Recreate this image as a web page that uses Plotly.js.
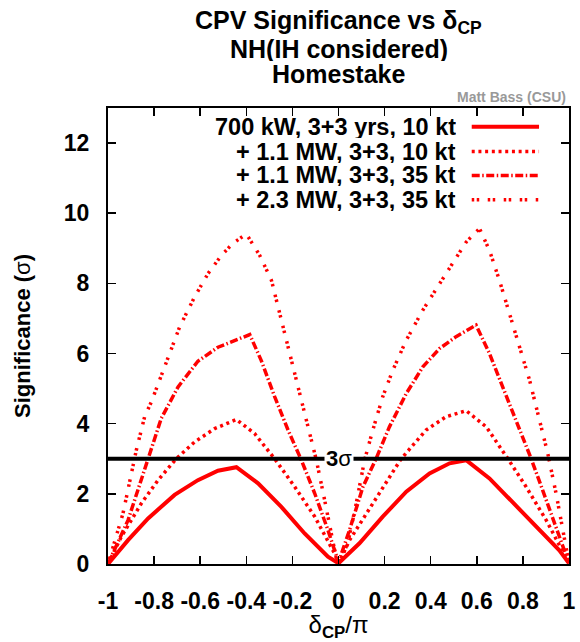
<!DOCTYPE html>
<html>
<head>
<meta charset="utf-8">
<script src="https://cdn.plot.ly/plotly-3.0.1.min.js"></script>
<style>html,body{margin:0;padding:0;background:#fff;}#chart{width:580px;height:642px;}</style>
</head>
<body>
<div id="chart"></div>
<script>
// Series names
var seriesNames = [
  "700 kW, 3+3 yrs, 10 kt",
  "+ 1.1 MW, 3+3, 10 kt",
  "+ 1.1 MW, 3+3, 35 kt",
  "+ 2.3 MW, 3+3, 35 kt"
];

// delta_CP / pi values and significance values (sigma)
var x700 = [-1,-0.913,-0.826,-0.711,-0.61,-0.523,-0.443,-0.349,-0.248,-0.147,-0.046,0,0.091,0.192,0.294,0.395,0.482,0.554,0.655,0.756,0.858,0.958,1];
var y700 = [0,0.68,1.3,1.97,2.39,2.66,2.76,2.3,1.63,0.87,0.21,0.02,0.59,1.35,2.06,2.58,2.87,2.96,2.44,1.77,1.06,0.39,0.02];

var x11_10 = [-1,-0.942,-0.855,-0.783,-0.704,-0.624,-0.537,-0.443,-0.364,-0.277,-0.19,-0.103,-0.017,0,0.048,0.149,0.272,0.38,0.467,0.554,0.641,0.735,0.814,0.901,0.988,1];
var y11_10 = [0,0.78,1.73,2.39,3.0,3.48,3.86,4.12,3.72,3.0,2.2,1.35,0.3,0.02,0.68,1.73,3.0,3.82,4.2,4.37,3.91,3.0,2.2,1.25,0.21,0.02];

var x11_35 = [-1,-0.913,-0.826,-0.769,-0.696,-0.61,-0.523,-0.45,-0.385,-0.335,-0.277,-0.219,-0.161,-0.103,-0.046,0,0.048,0.106,0.163,0.221,0.294,0.366,0.438,0.51,0.597,0.655,0.713,0.771,0.836,0.886,0.944,0.995,1];
var y11_35 = [0,1.25,3.0,4.15,5.05,5.78,6.18,6.37,6.54,5.8,4.77,3.82,2.96,2.01,0.97,0.05,0.97,2.2,3.0,3.91,4.86,5.62,6.14,6.48,6.81,6.0,5.05,4.1,3.0,2.1,1.06,0.1,0.02];

var x23_35 = [-1,-0.935,-0.877,-0.841,-0.812,-0.783,-0.74,-0.689,-0.624,-0.566,-0.508,-0.458,-0.40,-0.342,-0.291,-0.248,-0.212,-0.176,-0.132,-0.096,-0.06,-0.017,0,0.04,0.077,0.113,0.149,0.192,0.236,0.294,0.366,0.438,0.51,0.554,0.612,0.655,0.698,0.742,0.785,0.829,0.872,0.908,0.944,0.988,1];
var y23_35 = [0,1.44,3.25,4.2,4.62,5.14,5.9,6.76,7.62,8.28,8.8,9.14,9.41,8.8,8.09,6.95,6.0,5.05,3.91,2.96,1.82,0.4,0.02,0.59,1.73,2.96,3.82,4.77,5.53,6.38,7.24,7.99,8.75,9.18,9.56,8.94,8.09,7.14,6.19,5.24,4.1,3.15,2.01,0.49,0.02];

// 3 sigma threshold
var threshold = 3;
var thresholdLabel = "<b>3</b>σ";

// Tick labels
var xTickVals = [-1,-0.8,-0.6,-0.4,-0.2,0,0.2,0.4,0.6,0.8,1];
var xTickText = ["-1","-0.8","-0.6","-0.4","-0.2","0","0.2","0.4","0.6","0.8","1"];
var yTickVals = [0,2,4,6,8,10,12];
var yTickText = ["0","2","4","6","8","10","12"];

var RED = "#ff0000";
var FONT = "Liberation Sans, Arial, Helvetica, sans-serif";
var dashes = ["solid", "3px,3.7px", "8px,2.5px,1.5px,2.5px", "2.5px,2.5px,2.5px,8.5px"];
var widths = [4, 3.5, 3.5, 3.5];

var xs = [x700, x11_10, x11_35, x23_35];
var ys = [y700, y11_10, y11_35, y23_35];

var traces = [];
for (var i = 0; i < 4; i++) {
  traces.push({
    x: xs[i], y: ys[i], type: "scatter", mode: "lines",
    name: seriesNames[i], showlegend: false,
    line: {color: RED, width: widths[i], dash: dashes[i]},
    hoverinfo: "skip"
  });
}

// 3 sigma line
traces.push({
  x: [-1, 1], y: [threshold, threshold], type: "scatter", mode: "lines",
  line: {color: "#000", width: 4}, showlegend: false, hoverinfo: "skip"
});

var legendY = [0.959, 0.9046, 0.852, 0.799];
var titleFont = {family: FONT, size: 25, color: "#000"};
var annotations = [
  {text: "<b>CPV Significance vs δ<sub>CP</sub></b>", xref: "paper", yref: "paper", x: 0.5, y: 1.1886, xanchor: "center", yanchor: "middle", height: 24, borderpad: 0, showarrow: false, font: titleFont},
  {text: "<b>NH(IH considered)</b>", xref: "paper", yref: "paper", x: 0.5, y: 1.1294, xanchor: "center", yanchor: "middle", height: 24, borderpad: 0, showarrow: false, font: titleFont},
  {text: "<b>Homestake</b>", xref: "paper", yref: "paper", x: 0.5, y: 1.0746, xanchor: "center", yanchor: "middle", height: 24, borderpad: 0, showarrow: false, font: titleFont},
  {text: "<b>Matt Bass (CSU)</b>", xref: "paper", yref: "paper", x: 0.9978, y: 1.0241, xanchor: "right", yanchor: "middle", showarrow: false, font: {family: FONT, size: 14, color: "#999999"}},
  {text: thresholdLabel, xref: "x", yref: "y", x: 0.0, y: threshold, xanchor: "center", yanchor: "middle", showarrow: false, bgcolor: "#ffffff", borderpad: 1, font: {family: FONT, size: 22, color: "#000"}}
];
var shapes = [];
for (var j = 0; j < 4; j++) {
  annotations.push({text: "<b>" + seriesNames[j] + "</b>", xref: "paper", yref: "paper", x: 0.757, y: legendY[j], xanchor: "right", yanchor: "middle", height: 22, borderpad: 0, showarrow: false, font: {family: FONT, size: 23.5, color: "#000"}});
  shapes.push({type: "line", xref: "paper", yref: "paper", x0: 0.789, x1: 0.935, y0: legendY[j], y1: legendY[j], line: {color: RED, width: widths[j], dash: dashes[j]}});
}

var axisCommon = {
  showline: true, linecolor: "#000", linewidth: 2, mirror: "ticks",
  ticks: "inside", ticklen: 8, tickwidth: 1.5, tickcolor: "#000",
  showgrid: false, zeroline: false,
  tickfont: {family: FONT, size: 23, color: "#000", weight: "bold"}
};

var layout = {
  width: 580, height: 642,
  margin: {l: 108, r: 11, t: 108, b: 78, pad: 0},
  paper_bgcolor: "#fff", plot_bgcolor: "#fff",
  showlegend: false,
  xaxis: Object.assign({}, axisCommon, {
    range: [-1, 1], tickmode: "array", tickvals: xTickVals, ticktext: xTickText,
    ticklabelstandoff: 15,
    title: {text: "δ<sub><b>CP</b></sub>/π", font: {family: FONT, size: 24, color: "#000"}, standoff: 8}
  }),
  yaxis: Object.assign({}, axisCommon, {
    range: [0, 13], tickmode: "array", tickvals: yTickVals, ticktext: yTickText,
    ticklabelstandoff: 12,
    title: {text: "<b>Significance (</b>σ<b>)</b>", font: {family: FONT, size: 22, color: "#000"}, standoff: 27}
  }),
  annotations: annotations,
  shapes: shapes
};

Plotly.newPlot("chart", traces, layout, {staticPlot: true, displayModeBar: false});
</script>
</body>
</html>
